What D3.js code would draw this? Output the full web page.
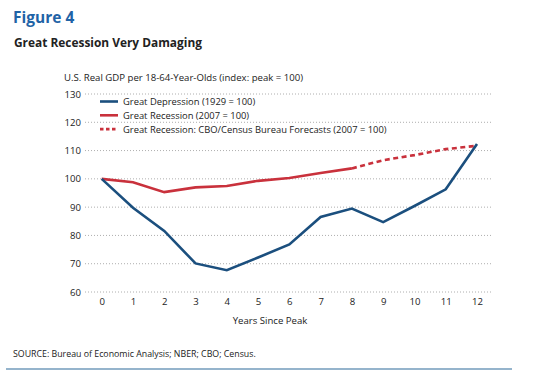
<!DOCTYPE html>
<html>
<head>
<meta charset="utf-8">
<script src="https://cdn.jsdelivr.net/npm/d3@7"></script>
<style>
  body { margin: 0; background: #fff; }
  svg { font-family: "Open Sans", "Noto Sans", sans-serif; }
</style>
</head>
<body>
<svg id="svg" width="558" height="380"></svg>
<script>
// years since peak
const years = d3.range(0, 13)
const depression = [100, 89.8, 81.6, 70.1, 67.7, 72.2, 76.8, 86.5, 89.5, 84.7, 90.4, 96.3, 112.3]
const recession = [100, 98.8, 95.3, 97.0, 97.5, 99.3, 100.3, 102.1, 103.7]
const forecastYears = [8, 9, 10, 11, 12]
const forecast = [103.7, 106.6, 108.4, 110.5, 111.7]
const yTicks = [60, 70, 80, 90, 100, 110, 120, 130]
const legendLabels = [
    "Great Depression (1929 = 100)",
    "Great Recession (2007 = 100)",
    "Great Recession: CBO/Census Bureau Forecasts (2007 = 100)"
]

const blue = "#1b4f7e"
const red = "#c9313c"

const svg = d3.select("#svg")

const x = d3.scaleLinear().domain([0, 12]).range([101.7, 477])
const y = d3.scaleLinear().domain([60, 130]).range([292, 94])

// headings
svg.append("text").attr("x", 13).attr("y", 23)
    .attr("font-size", 15.5).attr("font-weight", 700).attr("fill", "#1f63a6")
    .text("Figure 4")
svg.append("text").attr("x", 14).attr("y", 47)
    .attr("font-size", 11.9).attr("font-weight", 700).attr("fill", "#222")
    .text("Great Recession Very Damaging")
svg.append("text").attr("x", 64).attr("y", 81)
    .attr("font-size", 9.6).attr("fill", "#222")
    .text("U.S. Real GDP per 18-64-Year-Olds (index: peak = 100)")

// gridlines
svg.append("g").selectAll("line").data(yTicks).enter().append("line")
    .attr("x1", 85).attr("x2", 493)
    .attr("y1", d => y(d)).attr("y2", d => y(d))
    .attr("stroke", "#999").attr("stroke-width", 0.8)
    .attr("stroke-dasharray", "1,2")

// y axis labels
const yAxis = svg.append("g").attr("transform", "translate(83,0)")
    .call(d3.axisLeft(y).tickValues(yTicks).tickSize(0).tickPadding(2))
yAxis.select(".domain").remove()
yAxis.selectAll("text").attr("font-size", 9.6).attr("fill", "#222")
    .attr("font-family", "'Open Sans', sans-serif")

// x axis labels
const xAxis = svg.append("g").attr("transform", "translate(0,298)")
    .call(d3.axisBottom(x).tickValues(years).tickSize(0).tickPadding(0))
xAxis.select(".domain").remove()
xAxis.selectAll("text").attr("font-size", 9.6).attr("fill", "#222")
    .attr("font-family", "'Open Sans', sans-serif")

svg.append("text").attr("x", 270).attr("y", 324).attr("text-anchor", "middle")
    .attr("font-size", 9.6).attr("fill", "#222")
    .text("Years Since Peak")

// lines
const line = d3.line().x(d => x(d[0])).y(d => y(d[1]))

svg.append("path")
    .attr("d", line(forecastYears.map((yr, i) => [yr, forecast[i]])))
    .attr("fill", "none").attr("stroke", red).attr("stroke-width", 2.6)
    .attr("stroke-dasharray", "5,3.5")
svg.append("path")
    .attr("d", line(recession.map((v, i) => [years[i], v])))
    .attr("fill", "none").attr("stroke", red).attr("stroke-width", 2.6)
svg.append("path")
    .attr("d", line(depression.map((v, i) => [years[i], v])))
    .attr("fill", "none").attr("stroke", blue).attr("stroke-width", 2.6)

// legend
const legend = svg.append("g").selectAll("g").data(legendLabels).enter().append("g")
    .attr("transform", (d, i) => "translate(100," + (101.5 + i * 13.8) + ")")
legend.append("line").attr("x1", 0).attr("x2", 18)
    .attr("stroke", (d, i) => i == 0 ? blue : red).attr("stroke-width", 2.6)
    .attr("stroke-dasharray", (d, i) => i == 2 ? "3.5,2.5" : null)
legend.append("text").attr("x", 23).attr("y", 3.5)
    .attr("font-size", 9.4).attr("fill", "#222")
    .text(d => d)

// source
svg.append("text").attr("x", 13).attr("y", 357)
    .attr("font-size", 8.8).attr("fill", "#222")
    .text("SOURCE: Bureau of Economic Analysis; NBER; CBO; Census.")
svg.append("line").attr("x1", 6).attr("x2", 512).attr("y1", 369).attr("y2", 369)
    .attr("stroke", "#2d6a9a").attr("stroke-width", 1.2)
</script>
</body>
</html>
